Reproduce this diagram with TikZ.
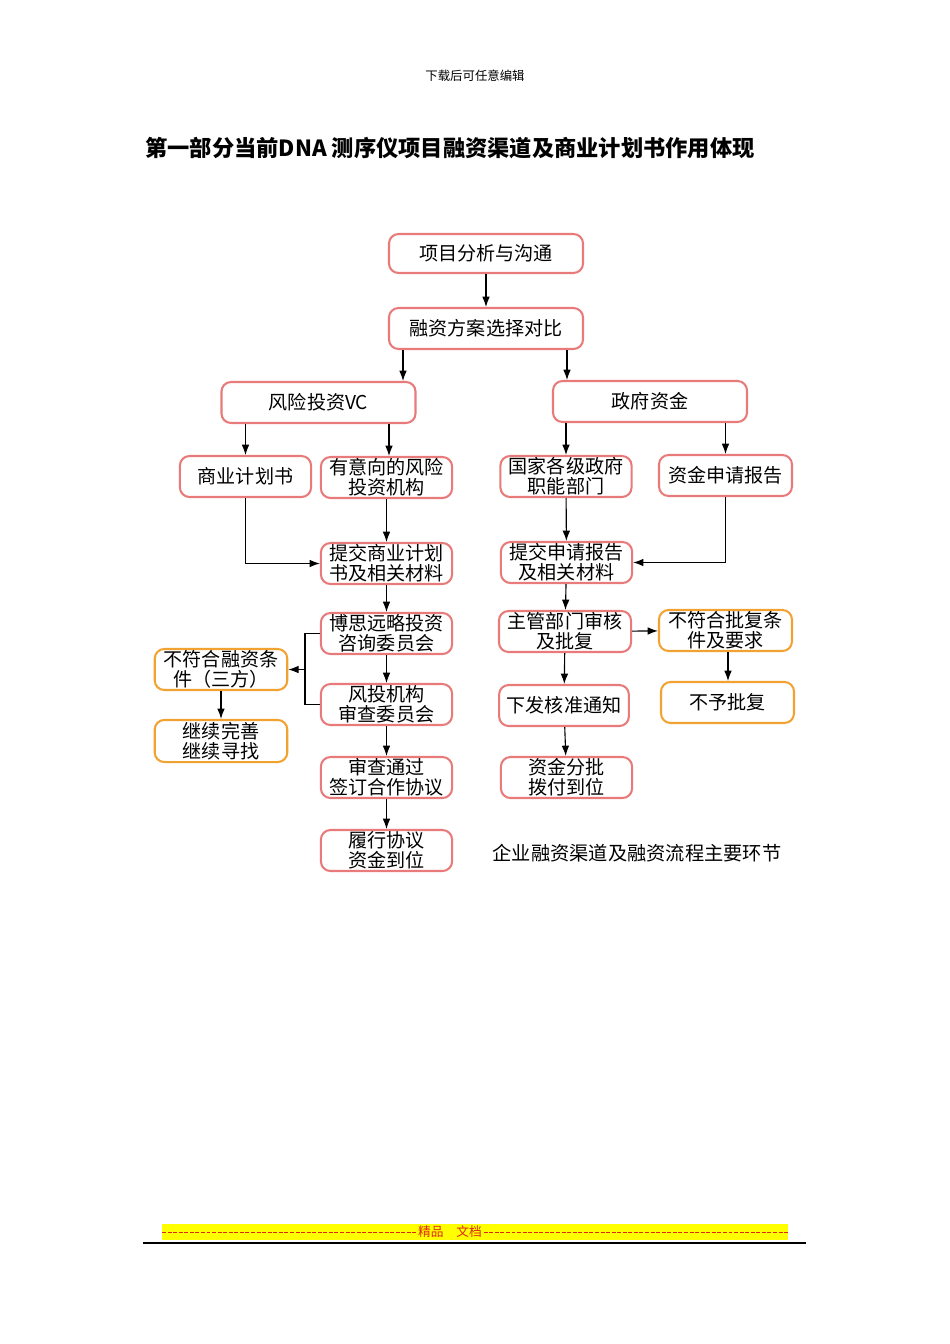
\documentclass[tikz,border=0pt]{standalone}
\usepackage{fontspec}
\setmainfont{Noto Sans CJK SC}
\usepackage{tikz}
\usetikzlibrary{calc}
\usetikzlibrary{shapes,arrows,arrows.meta}

\definecolor{boxred}{RGB}{232,122,122}
\definecolor{boxorange}{RGB}{242,162,48}
\definecolor{bandyellow}{RGB}{255,255,0}
\definecolor{inkred}{RGB}{220,40,20}

\tikzset{
	box/.style={draw=boxred, line width=1.3pt, rounded corners=6pt, fill=white,
		align=center, inner sep=0pt, minimum height=0.906cm,
		font=\fontsize{12}{12.4}\selectfont},
	warnbox/.style={box, draw=boxorange},
	wide/.style={minimum width=4.29cm},
	narrow/.style={minimum width=2.9cm},
	flow/.style={-{Latex[length=6.5pt,width=4.8pt]}, line width=0.7pt}
}

\begin{document}
\begin{tikzpicture}[x=0.02211cm,y=-0.02211cm]
				\useasboundingbox (0,0) rectangle (950,1344);
				
				% page header and title
				\node (Header) at (475,76) {\fontsize{7.8}{9}\selectfont 下载后可任意编辑};
				\node[anchor=west,inner sep=0pt] (Title) at (145,148) {\fontsize{14}{16}\selectfont\bfseries 第一部分当前DNA 测序仪项目融资渠道及商业计划书作用体现};
				
				% top of the flow
				\node[box,wide,minimum height=0.862cm] (Analyse) at (486,253.5) {项目分析与沟通};
				\node[box,wide] (Compare) at (486,328.5) {融资方案选择对比};
				\node[box,wide] (VC) at (318.5,402.5) {风险投资VC};
				\node[box,wide] (Gov) at (650,401.5) {政府资金};
				
				% venture capital branch
				\node[box,narrow] (BizPlan) at (245.5,476.5) {商业计划书};
				\node[box,narrow] (Investor) at (386.5,477.5) {有意向的风险\\投资机构};
				\node[box,narrow] (SubmitPlan) at (386.5,563.5) {提交商业计划\\书及相关材料};
				\node[box,narrow] (Board) at (386.5,633.5) {博思远略投资\\咨询委员会};
				\node[box,narrow] (VCBoard) at (386.5,704.5) {风投机构\\审查委员会};
				\node[box,narrow] (Pass) at (386.5,777.5) {审查通过\\签订合作协议};
				\node[box,narrow] (Perform) at (386.5,850.5) {履行协议\\资金到位};
				\node[warnbox,narrow,minimum width=2.93cm] (NoFinance) at (221,669.5) {不符合融资条\\件（三方）};
				\node[warnbox,narrow,minimum width=2.93cm,minimum height=0.93cm] (Improve) at (221,741) {继续完善\\继续寻找};
				
				% government branch
				\node[box,narrow] (Agency) at (566,476.5) {国家各级政府\\职能部门};
				\node[box,narrow,minimum width=2.94cm] (Report) at (725.5,475.5) {资金申请报告};
				\node[box,narrow] (SubmitReport) at (566.5,562.5) {提交申请报告\\及相关材料};
				\node[box,narrow,minimum width=2.92cm] (Review) at (565,631.5) {主管部门审核\\及批复};
				\node[box,narrow,minimum width=2.87cm] (Notice) at (564,705.5) {下发核准通知};
				\node[box,narrow] (Fund) at (566.5,777.5) {资金分批\\拨付到位};
				\node[warnbox,narrow,minimum width=2.94cm] (NoApprove) at (725.5,630.5) {不符合批复条\\件及要求};
				\node[warnbox,narrow,minimum width=2.94cm] (Refuse) at (727.5,702.5) {不予批复};
				
				\node (Caption) at (637,853) {\fontsize{12.1}{13}\selectfont 企业融资渠道及融资流程主要环节};
				
				% connectors
				\draw[flow] (Analyse) -- (Compare);
				\draw[flow] (Compare.south -| 403,0) -- (VC.north -| 403,0);
				\draw[flow] (Compare.south -| 567,0) -- (Gov.north -| 567,0);
				\draw[flow] (VC.south -| BizPlan) -- (BizPlan);
				\draw[flow] (VC.south -| 389,0) -- (Investor.north -| 389,0);
				\draw[flow] (Gov.south -| Agency) -- (Agency);
				\draw[flow] (Gov.south -| Report) -- (Report);
				
				\draw[flow] (BizPlan) |- (SubmitPlan);
				\draw[flow] (Investor) -- (SubmitPlan);
				\draw[flow] (SubmitPlan) -- (Board);
				\draw[flow] (Board) -- (VCBoard);
				\draw[flow] (VCBoard) -- (Pass);
				\draw[flow] (Pass) -- (Perform);
				\coordinate (Fork) at (305,669.5);
				\draw[line width=0.7pt] (Board.west) -| (Fork) |- (VCBoard.west);
				\draw[flow] (Fork) -- (NoFinance);
				\draw[flow] (NoFinance) -- (Improve);
				
				\draw[flow] (Agency) -- (SubmitReport);
				\draw[flow] (Report) |- (SubmitReport);
				\draw[flow] (SubmitReport) -- (Review);
				\draw[flow] (Review) -- (NoApprove);
				\draw[flow] (Review) -- (Notice);
				\draw[flow] (Notice) -- (Fund);
				\draw[flow] (NoApprove.south -| 728,0) -- (Refuse.north -| 728,0);
				
				% footer band
				\fill[bandyellow] (162,1224) rectangle (788,1240);
				\node[inner sep=1pt] (Footer) at (450,1232) {\fontsize{8}{9}\selectfont\color{inkred}精品\quad 文档};
				\draw[inkred, line width=0.5pt, dash pattern=on 2.5pt off 1pt] (162,1232) -- (Footer.west);
				\draw[inkred, line width=0.5pt, dash pattern=on 2.5pt off 1pt] (Footer.east) -- (788,1232);
				\draw[line width=1.3pt] (143,1243) -- (806,1243);
				
\end{tikzpicture}
\end{document}
